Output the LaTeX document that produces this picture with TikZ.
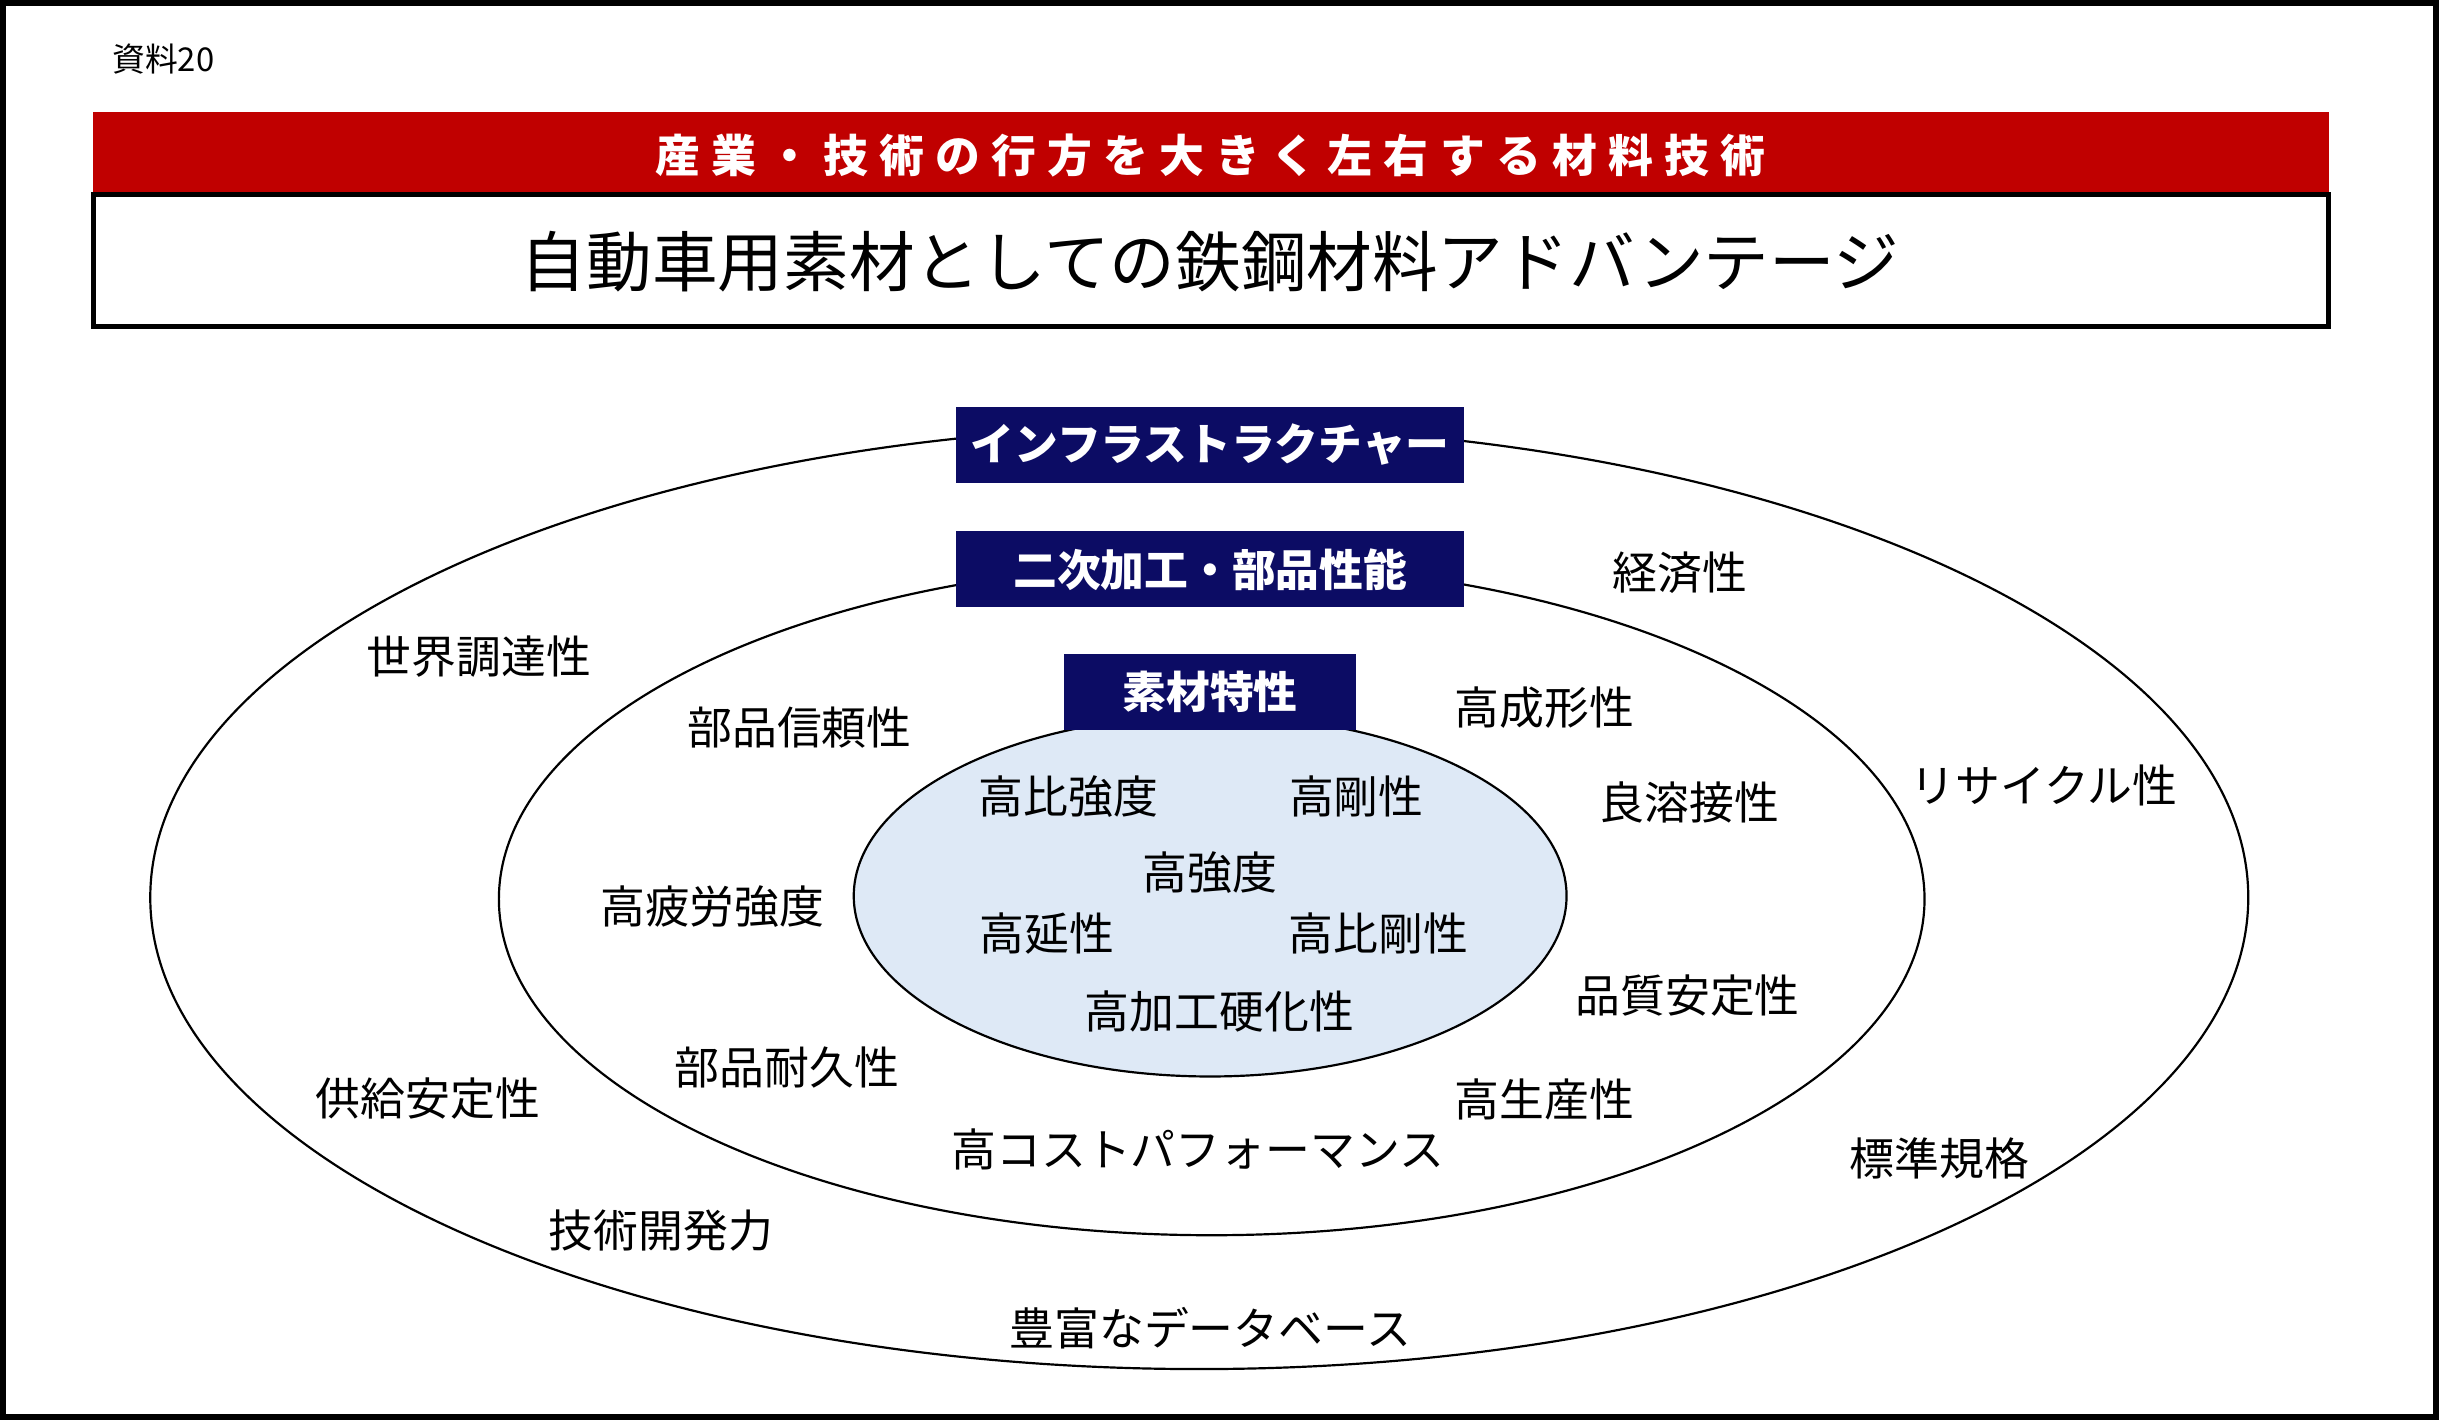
\documentclass[tikz,border=0pt]{standalone}
\usepackage{fontspec}
\setmainfont{Noto Sans CJK JP}
\newfontfamily\spaced[LetterSpace=25]{Noto Sans CJK JP}
\definecolor{barred}{RGB}{192,0,0}
\definecolor{navy}{RGB}{12,12,100}
\definecolor{paleblue}{RGB}{222,233,246}
\tikzset{
  item/.style={font=\fontsize{8.2}{9}\selectfont},
  tag/.style={fill=navy, text=white, font=\fontsize{8}{9}\selectfont\bfseries, minimum height=0.49cm, inner sep=0pt}
}
\begin{document}
\begin{tikzpicture}[x=0.01cm, y=-0.01cm]
\useasboundingbox (0,0) rectangle (1568,913);
\draw[line width=1.2pt] (2,2) rectangle (1566,911);
\node[font=\fontsize{6}{7}\selectfont] (src) at (105,38) {資料20};
% header
\fill[barred] (60,72) rectangle (1497,125);
\node[text=white, font=\fontsize{8.2}{9}\spaced\bfseries] (band) at (778,100) {産業・技術の行方を大きく左右する材料技術};
\draw[thick] (60,125) rectangle (1497,210);
\node[font=\fontsize{12}{13}\selectfont] (title) at (778,168) {自動車用素材としての鉄鋼材料アドバンテージ};
% ellipses
\draw (771,577) ellipse [x radius=6.74cm, y radius=3.03cm];
\draw (779,578) ellipse [x radius=4.58cm, y radius=2.16cm];
\draw[fill=paleblue] (778,576) ellipse [x radius=2.29cm, y radius=1.16cm];
% labels
\node[tag, minimum width=3.26cm] (infra) at (778,286) {インフラストラクチャー};
\node[tag, minimum width=3.26cm] (parts) at (778,366) {二次加工・部品性能};
\node[tag, minimum width=1.88cm] (mat) at (778,445) {素材特性};
% outer ring
\node[item] (o1) at (1080,368) {経済性};
\node[item] (o2) at (308,422) {世界調達性};
\node[item] (o3) at (1314,505) {リサイクル性};
\node[item] (o4) at (275,706) {供給安定性};
\node[item] (o5) at (1247,745) {標準規格};
\node[item] (o6) at (425,791) {技術開発力};
\node[item] (o7) at (778,854) {豊富なデータベース};
% middle ring
\node[item] (m1) at (514,468) {部品信頼性};
\node[item] (m2) at (993,455) {高成形性};
\node[item] (m3) at (1086,516) {良溶接性};
\node[item] (m4) at (458,583) {高疲労強度};
\node[item] (m5) at (1085,640) {品質安定性};
\node[item] (m6) at (506,686) {部品耐久性};
\node[item] (m7) at (993,707) {高生産性};
\node[item] (m8) at (770,739) {高コストパフォーマンス};
% inner
\node[item] (i1) at (687,512) {高比強度};
\node[item] (i2) at (872,512) {高剛性};
\node[item] (i3) at (778,561) {高強度};
\node[item] (i4) at (673,600) {高延性};
\node[item] (i5) at (886,600) {高比剛性};
\node[item] (i6) at (784,650) {高加工硬化性};
\end{tikzpicture}
\end{document}
